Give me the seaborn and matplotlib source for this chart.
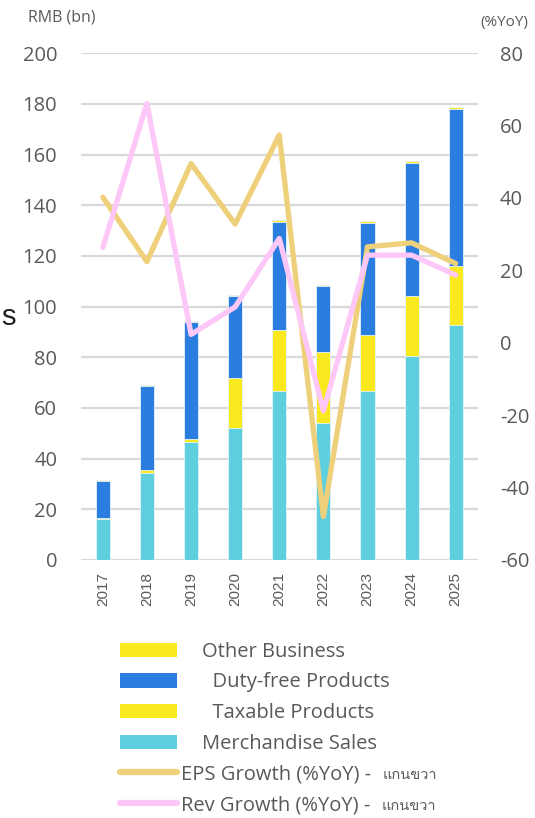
import numpy as np
import matplotlib
matplotlib.use("Agg")
from matplotlib import pyplot as plt
from matplotlib import font_manager
from matplotlib.ft2font import FT2Font
from matplotlib.patches import Patch
from matplotlib.lines import Line2D
import seaborn as sns

years = ["2017", "2018", "2019", "2020", "2021", "2022", "2023", "2024", "2025"]
merchandise = [16.2, 34.4, 46.4, 52.2, 66.8, 54.0, 66.5, 80.5, 92.7]
taxable = [0.5, 1.2, 1.2, 19.6, 24.0, 28.1, 22.4, 23.8, 23.4]
duty_free = [14.6, 33.0, 46.3, 32.3, 42.7, 25.9, 44.2, 52.3, 61.7]
other = [0.4, 0.4, 0.5, 0.4, 0.7, 0.5, 0.7, 0.8, 0.8]
eps_growth = [40.2, 22.4, 49.5, 32.8, 57.4, -48.0, 26.5, 27.6, 21.9]
rev_growth = [26.3, 66.1, 2.3, 9.9, 28.8, -18.8, 24.2, 24.2, 18.7]

left_ticks = [0, 20, 40, 60, 80, 100, 120, 140, 160, 180, 200]
right_ticks = [-60, -40, -20, 0, 20, 40, 60, 80]

C_MERCH = "#5ecfdf"
C_TAX = "#f9e91e"
C_DUTY = "#2b7ddf"
C_OTHER = "#f9e91e"
C_EPS = "#eed07a"
C_REV = "#fdc8f8"
GREY = "#595959"


def find_thai_family():
    # look for any installed font that has Thai glyphs
    for f in font_manager.fontManager.ttflist:
        try:
            if ord("ก") in FT2Font(f.fname).get_charmap():
                return f.name
        except Exception:
            continue
    return None


sns.set_style("white")
plt.rcParams["font.family"] = ["Open Sans", "DejaVu Sans", "Noto Sans"]
plt.rcParams["axes.unicode_minus"] = False
thai_fam = find_thai_family()
thai_list = ([thai_fam] if thai_fam else []) + ["Open Sans", "DejaVu Sans"]

fig = plt.figure(figsize=(5.35, 8.18), dpi=100)
ax = fig.add_axes([0.151, 0.3155, 0.742, 0.6195])

# stacked bars: draw cumulative totals, tallest first
cum1 = np.array(merchandise)
cum2 = cum1 + np.array(taxable)
cum3 = cum2 + np.array(duty_free)
cum4 = cum3 + np.array(other)
for vals, col in [(cum4, C_OTHER), (cum3, C_DUTY), (cum2, C_TAX), (cum1, C_MERCH)]:
    sns.barplot(x=years, y=vals, ax=ax, color=col, saturation=1, width=0.32,
                order=years, edgecolor="#e8f4fb", linewidth=0.6)

ax.set_ylim(0, 200)
ax.set_xlim(-0.5, 8.5)
ax.set_yticks(left_ticks)
ax.yaxis.grid(True, color="#d9d9d9", linewidth=1.6)
ax.set_axisbelow(True)
ax.tick_params(axis="y", length=0, pad=17, labelsize=14.5, labelcolor=GREY)
ax.tick_params(axis="x", length=0, pad=9, labelsize=11, labelcolor=GREY)
for lab in ax.get_xticklabels():
    lab.set_rotation(90)
    lab.set_family("Liberation Sans")
ax.set_xlabel("")
ax.set_ylabel("")
sns.despine(ax=ax, left=True, bottom=True)

ax2 = ax.twinx()
xs = np.arange(len(years))
sns.lineplot(x=xs, y=eps_growth, ax=ax2, color=C_EPS, linewidth=3.8, sort=False)
sns.lineplot(x=xs, y=rev_growth, ax=ax2, color=C_REV, linewidth=3.8, sort=False)
ax2.set_ylim(-60, 80)
ax2.set_yticks(right_ticks)
ax2.tick_params(axis="y", length=0, pad=16, labelsize=14.5, labelcolor=GREY)
for s in ax2.spines.values():
    s.set_visible(False)
ax2.set_xlim(-0.5, 8.5)

fig.text(0.052, 0.978, "RMB (bn)", fontsize=11.5, color=GREY, va="center", ha="left")
fig.text(0.897, 0.972, "(%YoY)", fontsize=11, color=GREY, va="center", ha="left")
fig.text(0.003, 0.613, "s", fontsize=21, color="#222222", va="center", ha="left",
         family="Liberation Sans")

handles = [
    Patch(facecolor=C_OTHER, edgecolor="none"),
    Patch(facecolor=C_DUTY, edgecolor="none"),
    Patch(facecolor=C_TAX, edgecolor="none"),
    Patch(facecolor=C_MERCH, edgecolor="none"),
    Line2D([0], [0], color=C_EPS, linewidth=4.5, solid_capstyle="round"),
    Line2D([0], [0], color=C_REV, linewidth=4.5, solid_capstyle="round"),
]
labels = [
    "    Other Business",
    "      Duty-free Products",
    "      Taxable Products",
    "    Merchandise Sales",
    "EPS Growth (%YoY) - ",
    "Rev Growth (%YoY) - ",
]
leg = fig.legend(handles, labels, loc="upper left", bbox_to_anchor=(0.225, 0.2155),
                 frameon=False, fontsize=14.5, handlelength=2.8, handleheight=0.72,
                 handletextpad=0.2, labelspacing=0.53, borderpad=0, borderaxespad=0)
for t in leg.get_texts():
    t.set_color(GREY)

# smaller Thai note after the two line entries
fig.canvas.draw()
inv = fig.transFigure.inverted()
for t in leg.get_texts()[4:]:
    bb = t.get_window_extent()
    x0, y0 = inv.transform((bb.x1, (bb.y0 + bb.y1) / 2))
    fig.text(x0 + 0.012, y0 - 0.001, "แกนขวา", fontsize=10.5, color=GREY,
             va="center", ha="left", family=thai_list)

fig.savefig("out.png", dpi=100)
